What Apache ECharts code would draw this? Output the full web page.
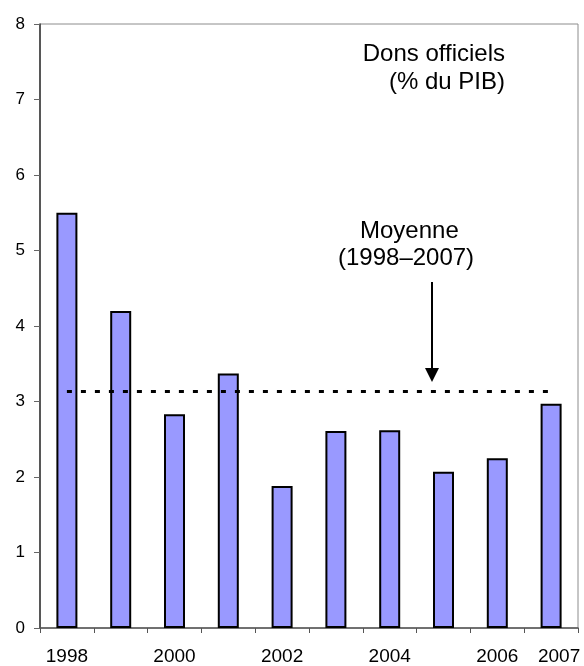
<!DOCTYPE html>
<html>
<head>
<meta charset="utf-8">
<script src="https://cdn.jsdelivr.net/npm/echarts@6/dist/echarts.min.js"></script>
<style>
  html, body { margin: 0; padding: 0; background: #fff; }
  #chart { width: 584px; height: 666px; }
</style>
</head>
<body>
<div id="chart"></div>
<script>
// Dons officiels, % du PIB
const years = ['1998', '1999', '2000', '2001', '2002', '2003', '2004', '2005', '2006', '2007'];
const dons = [5.5, 4.2, 2.83, 3.37, 1.88, 2.61, 2.62, 2.07, 2.25, 2.97];
const moyenne = 3.14;
const shownYears = ['1998', '2000', '2002', '2004', '2006', '2007'];

const font = '"Liberation Sans", Arial, sans-serif';
const chart = echarts.init(document.getElementById('chart'));

chart.setOption({
  animation: false,
  textStyle: { fontFamily: font },
  grid: {
    left: 40,
    top: 24,
    right: 6,
    bottom: 37,
    show: true,
    borderColor: '#8c8c8c',
    borderWidth: 1
  },
  xAxis: {
    type: 'category',
    data: years,
    boundaryGap: true,
    axisLine: { lineStyle: { color: '#555', width: 1.5 } },
    axisTick: { show: true, length: 5, lineStyle: { color: '#555' } },
    axisLabel: {
      interval: 0,
      margin: 19,
      color: '#000',
      fontSize: 19,
      fontFamily: font,
      formatter: function (v) {
        if (v === '2007') return '{b|' + v + '}';
        return shownYears.indexOf(v) >= 0 ? v : '';
      },
      rich: {
        b: { fontSize: 19, fontFamily: font, color: '#000', padding: [0, 0, 8, 16] }
      }
    }
  },
  yAxis: {
    type: 'value',
    min: 0,
    max: 8,
    interval: 1,
    splitLine: { show: false },
    axisLine: { show: true, lineStyle: { color: '#333', width: 1.5 } },
    axisTick: { show: true, length: 6, lineStyle: { color: '#666' } },
    axisLabel: { color: '#000', fontSize: 17, margin: 15, fontFamily: font }
  },
  series: [{
    type: 'bar',
    data: dons,
    barWidth: 21,
    itemStyle: { color: '#9999ff', borderColor: '#000', borderWidth: 2 },
    markLine: {
      silent: true,
      symbol: 'none',
      label: { show: false },
      lineStyle: { color: '#000', width: 3, type: [5, 9] },
      data: [[
        { coord: ['1998', moyenne] },
        { coord: ['2007', moyenne] }
      ]]
    }
  }],
  graphic: [
    {
      type: 'text', right: 79, top: 42,
      style: { text: 'Dons officiels', font: '24px ' + font, fill: '#000' }
    },
    {
      type: 'text', right: 79, top: 70,
      style: { text: '(% du PIB)', font: '24px ' + font, fill: '#000' }
    },
    {
      type: 'text', left: 360, top: 219,
      style: { text: 'Moyenne', font: '24px ' + font, fill: '#000' }
    },
    {
      type: 'text', left: 338, top: 246,
      style: { text: '(1998–2007)', font: '24px ' + font, fill: '#000' }
    },
    {
      type: 'line',
      shape: { x1: 432, y1: 282, x2: 432, y2: 370 },
      style: { stroke: '#000', lineWidth: 2 }
    },
    {
      type: 'polygon',
      shape: { points: [[425, 368], [439, 368], [432, 382]] },
      style: { fill: '#000' }
    }
  ]
});
</script>
</body>
</html>
